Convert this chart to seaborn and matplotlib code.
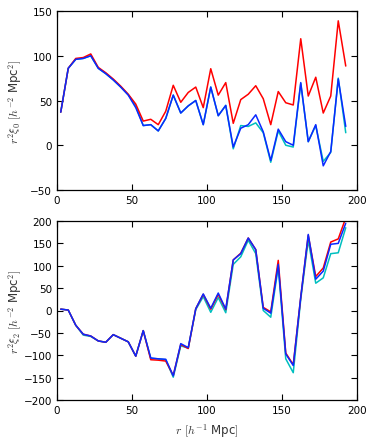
import numpy as np
import pandas as pd
import seaborn as sns
import matplotlib
matplotlib.use("Agg")
import matplotlib.pyplot as plt

# separation bins (bin centres)
r = [2.5, 7.5, 12.5, 17.5, 22.5, 27.5, 32.5, 37.5, 42.5, 47.5,
     52.5, 57.5, 62.5, 67.5, 72.5, 77.5, 82.5, 87.5, 92.5, 97.5,
     102.5, 107.5, 112.5, 117.5, 122.5, 127.5, 132.5, 137.5, 142.5, 147.5,
     152.5, 157.5, 162.5, 167.5, 172.5, 177.5, 182.5, 187.5, 192.5]

# monopole r^2 xi_0
xi0_cyan = [37, 86, 96, 97, 100, 86, 80, 73, 65, 56.5,
            44, 22, 23, 16, 30, 56, 36, 44, 50, 23,
            65, 33, 44.5, -4, 22, 21, 25, 14, -19, 16,
            0, -2, 69, 4, 22, -18, -8, 75, 14]
xi0_red = [37, 86, 97, 98, 102, 87, 81, 74, 66, 57,
           46, 27, 29, 23, 38, 67, 48, 59, 65, 42,
           85.5, 56, 70, 24.5, 51, 57, 66.5, 52, 23, 60,
           47.5, 45, 119, 55, 76, 36, 55, 139, 88.5]
xi0_blue = [37, 86, 96, 97, 100, 86, 80, 73, 65, 56,
            42, 22, 23, 16, 30, 56, 36, 44, 50, 23,
            65, 33, 44.5, -2, 19, 23, 34, 15, -17, 18,
            4, 0, 70, 4, 23, -23, -7, 74, 21]

# quadrupole r^2 xi_2
xi2_cyan = [3, 1, -33, -55, -58, -68, -71, -54, -62, -70,
            -102, -45, -107, -108, -110, -149, -79, -84, 2, 31,
            -4, 29, -5, 103, 120, 157, 127, 0, -15, 97,
            -108, -139, 25, 157, 61, 73, 127, 129, 185]
xi2_red = [3, 1, -33, -53, -57, -68, -71, -54, -62, -70,
           -102, -45, -110, -111, -113, -145, -76, -85, 4, 36,
           3, 36, 2, 113, 128, 162, 136, 7, -3, 112,
           -95, -121, 30, 168, 76, 95, 153, 160, 207]
xi2_blue = [3, 1, -33, -53, -57, -68, -71, -54, -62, -70,
            -102, -45, -106, -108, -109, -146, -74, -83, 4, 37,
            5, 39, 3, 113, 127, 162, 136, 5, -6, 103,
            -97, -123, 30, 170, 70, 88, 148, 150, 195]

series = ["cyan", "red", "blue"]
palette = {"cyan": "#00bfbf", "red": "#ff0000", "blue": "#0a28ff"}


def long_frame(cyan, red, blue):
    frames = []
    for name, vals in zip(series, [cyan, red, blue]):
        frames.append(pd.DataFrame({"r": r, "y": vals, "s": name}))
    return pd.concat(frames, ignore_index=True)


sns.set_style("ticks")
plt.rcParams["font.family"] = ["DejaVu Sans"]
plt.rcParams["mathtext.fontset"] = "cm"
plt.rcParams["xtick.direction"] = "in"
plt.rcParams["ytick.direction"] = "in"
plt.rcParams["xtick.top"] = True
plt.rcParams["ytick.right"] = True
plt.rcParams["xtick.major.size"] = 4
plt.rcParams["ytick.major.size"] = 4
plt.rcParams["axes.edgecolor"] = "black"
plt.rcParams["axes.linewidth"] = 0.9

fig = plt.figure(figsize=(3.74, 4.39), dpi=100)
ax1 = fig.add_axes([57 / 374, 1 - 191 / 439, 300 / 374, 179 / 439])
ax2 = fig.add_axes([57 / 374, 1 - 401 / 439, 300 / 374, 179 / 439])

sns.lineplot(data=long_frame(xi0_cyan, xi0_red, xi0_blue), x="r", y="y",
             hue="s", palette=palette, hue_order=series, sort=False,
             estimator=None, linewidth=1.1, legend=False, ax=ax1)
sns.lineplot(data=long_frame(xi2_cyan, xi2_red, xi2_blue), x="r", y="y",
             hue="s", palette=palette, hue_order=series, sort=False,
             estimator=None, linewidth=1.1, legend=False, ax=ax2)

ax1.set_xlim(0, 200)
ax1.set_ylim(-50, 150)
ax1.set_yticks([-50, 0, 50, 100, 150])
ax2.set_xlim(0, 200)
ax2.set_ylim(-200, 200)
ax2.set_yticks(np.arange(-200, 201, 50))

for ax in (ax1, ax2):
    ax.set_xticks([0, 50, 100, 150, 200])
    ax.tick_params(labelsize=7.5, colors="black", width=0.8)

ax1.set_xlabel("")
ax1.set_ylabel(r"$r^2\xi_0$ $[h^{-2}$ Mpc$^2]$", fontsize=8.5, color="#333333")
ax2.set_ylabel(r"$r^2\xi_2$ $[h^{-2}$ Mpc$^2]$", fontsize=8.5, color="#333333")
ax2.set_xlabel(r"$r$ $[h^{-1}$ Mpc$]$", fontsize=8.5, color="#333333")
ax1.yaxis.set_label_coords(-0.11, 0.5)
ax2.yaxis.set_label_coords(-0.11, 0.5)
ax2.xaxis.set_label_coords(0.5, -0.12)

fig.savefig("out.png", dpi=100)
